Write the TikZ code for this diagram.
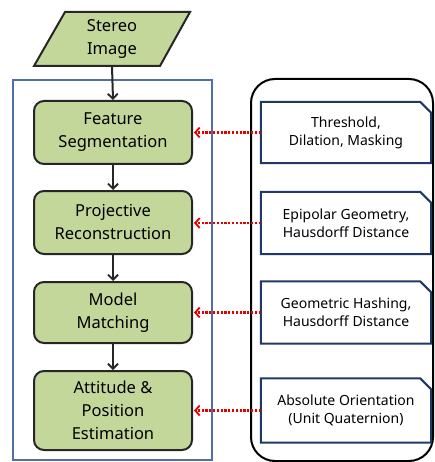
\documentclass[tikz,border=0pt]{standalone}
\usepackage{fontspec}
\setmainfont{Noto Sans}
\usetikzlibrary{arrows.meta,calc}
\definecolor{boxgreen}{RGB}{196,215,155}
\definecolor{outerblue}{RGB}{79,112,160}
\definecolor{snipblue}{RGB}{31,56,100}
\tikzset{
  stepbox/.style={draw=black!85, line width=2pt, fill=boxgreen, rounded corners=10pt,
    minimum width=158pt, align=center, font=\fontsize{16.5}{23}\selectfont, inner sep=0pt},
  methodbox/.style={minimum width=170pt, align=center, font=\fontsize{14}{18}\selectfont, inner sep=0pt},
  snipline/.style={draw=snipblue, line width=2pt, line join=miter},
  flowarrow/.style={-{Straight Barb[length=5pt,width=10pt,line width=1.8pt]}, line width=2pt, black!85},
  linkarrow/.style={-{Straight Barb[length=4.5pt,width=10pt,line width=1.8pt]}, line width=2.4pt, red!90!black,
    dash pattern=on 2.2pt off 1.6pt, shorten >=1pt}
}
\begin{document}
\begin{tikzpicture}[x=1pt,y=-1pt]
\useasboundingbox (0,0) rectangle (435,462);
% outer frames
\draw[outerblue, line width=1.4pt] (13,80) rectangle (212,460);
\draw[black, line width=2pt, rounded corners=24pt] (251,79) rectangle (433,461);
% input
\fill[boxgreen] (65,12) -- (190,12) -- (160,66) -- (34,66) -- cycle;
\draw[black!85, line width=2pt] (65,12) -- (190,12) -- (160,66) -- (34,66) -- cycle;
\node[minimum width=100pt, minimum height=54pt, inner sep=0pt, align=center,
  font=\fontsize{16.5}{23}\selectfont] (img) at (112,39) {Stereo\\Image};
% steps
\node[stepbox, minimum height=63pt] (b1) at (113,132.5) {Feature\\Segmentation};
\node[stepbox, minimum height=63pt] (b2) at (113,222.5) {Projective\\Reconstruction};
\node[stepbox, minimum height=61pt] (b3) at (113,312.5) {Model\\Matching};
\node[stepbox, minimum height=79pt] (b4) at (113,410.5) {Attitude \&\\Position\\Estimation};
% methods
\node[methodbox, minimum height=61pt] (s1) at (346,132.5) {Threshold,\\Dilation, Masking};
\node[methodbox, minimum height=62pt] (s2) at (346,223) {Epipolar Geometry,\\Hausdorff Distance};
\node[methodbox, minimum height=62pt] (s3) at (346,312.5) {Geometric Hashing,\\Hausdorff Distance};
\node[methodbox, minimum height=64pt] (s4) at (346,410.5) {Absolute Orientation\\(Unit Quaternion)};
\foreach \s in {s1,s2,s3,s4}{
  \draw[snipline] (\s.north west) -- ($(\s.north east)+(-11,0)$) -- ($(\s.north east)+(0,11)$)
    -- (\s.south east) -- (\s.south west) -- cycle;
}
% flow
\draw[flowarrow] (img.south) -- (b1.north);
\draw[flowarrow] (b1) -- (b2);
\draw[flowarrow] (b2) -- (b3);
\draw[flowarrow] (b3) -- (b4);
% links
\draw[linkarrow] (s1.west) -- (b1.east);
\draw[linkarrow] (s2.west) -- (b2.east |- s2.west);
\draw[linkarrow] (s3.west) -- (b3.east |- s3.west);
\draw[linkarrow] (s4.west) -- (b4.east |- s4.west);
\end{tikzpicture}
\end{document}
